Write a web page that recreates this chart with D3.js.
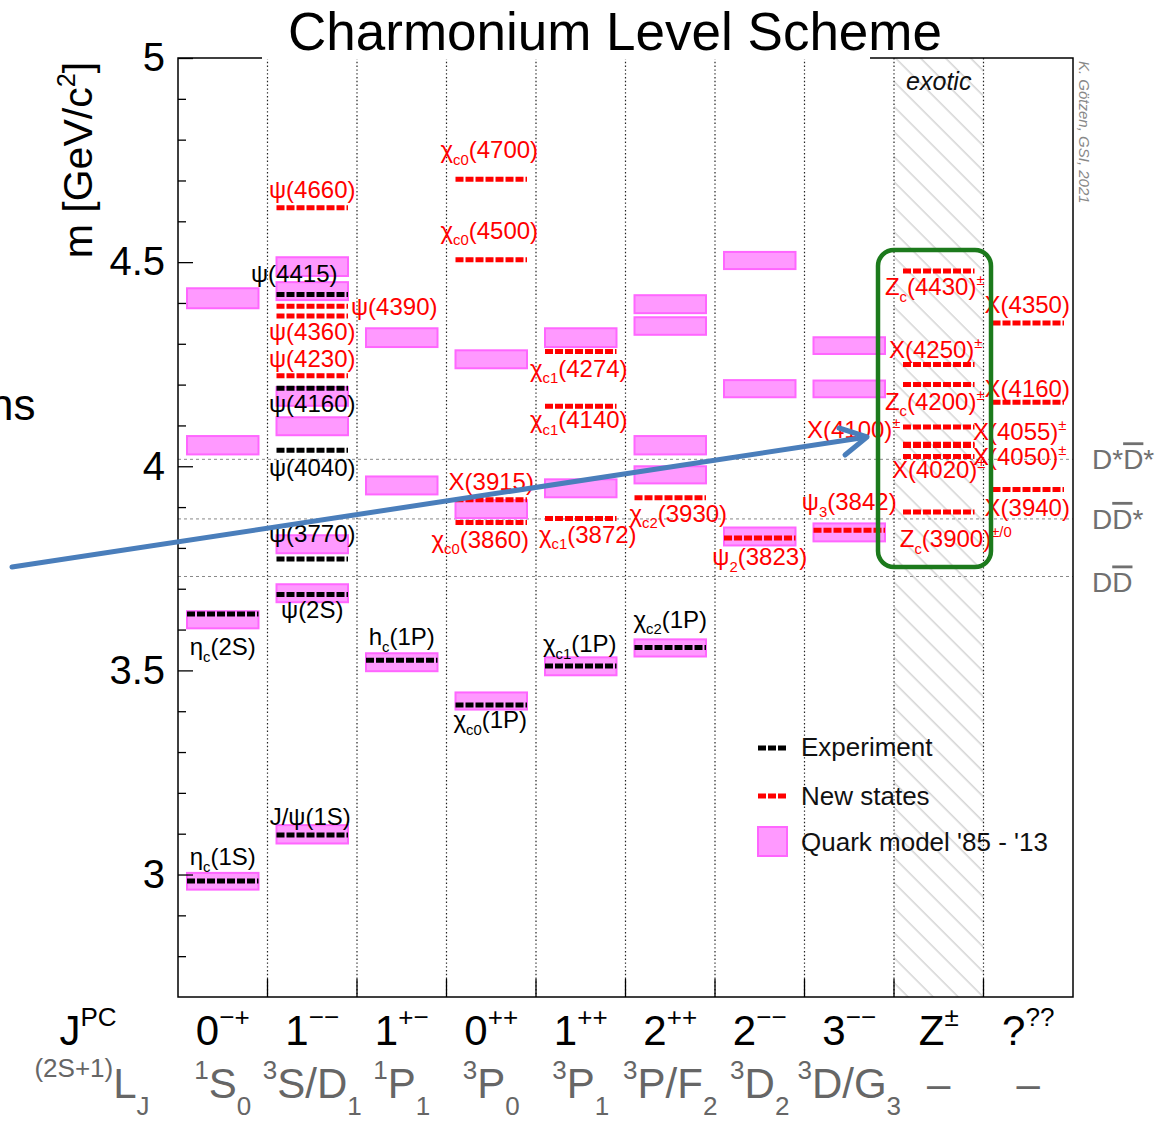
<!DOCTYPE html>
<html lang="en">
<head>
<meta charset="utf-8">
<title>Charmonium Level Scheme</title>
<script src="https://cdn.jsdelivr.net/npm/d3@7"></script>
<style>
  body { margin: 0; background: #fff; }
  svg { display: block; font-family: "Liberation Sans", Arial, Helvetica, sans-serif; }
</style>
</head>
<body>
<script>
// ---- data ----
var jpcLabels = ["0^{\u2212+}", "1^{\u2212\u2212}", "1^{+\u2212}", "0^{++}", "1^{++}", "2^{++}", "2^{\u2212\u2212}", "3^{\u2212\u2212}", "Z^{\u00b1}", "?^{??}"];
var lsjLabels = ["^{1}S_{0}", "^{3}S/D_{1}", "^{1}P_{1}", "^{3}P_{0}", "^{3}P_{1}", "^{3}P/F_{2}", "^{3}D_{2}", "^{3}D/G_{3}", "\u2013", "\u2013"];

// [column, mass GeV, name]
var expStates = [
  [0, 2.984, "\u03b7_{c}(1S)"],
  [0, 3.638, "\u03b7_{c}(2S)"],
  [1, 3.097, "J/\u03c8(1S)"],
  [1, 3.686, "\u03c8(2S)"],
  [1, 3.773, "\u03c8(3770)"],
  [1, 4.039, "\u03c8(4040)"],
  [1, 4.191, "\u03c8(4160)"],
  [1, 4.421, "\u03c8(4415)"],
  [2, 3.525, "h_{c}(1P)"],
  [3, 3.415, "\u03c7_{c0}(1P)"],
  [4, 3.511, "\u03c7_{c1}(1P)"],
  [5, 3.556, "\u03c7_{c2}(1P)"]
];

var newStates = [
  [1, 4.222, "\u03c8(4230)"],
  [1, 4.368, "\u03c8(4360)"],
  [1, 4.392, "\u03c8(4390)"],
  [1, 4.633, "\u03c8(4660)"],
  [3, 3.862, "\u03c7_{c0}(3860)"],
  [3, 3.918, "X(3915)"],
  [3, 4.506, "\u03c7_{c0}(4500)"],
  [3, 4.703, "\u03c7_{c0}(4700)"],
  [4, 3.872, "\u03c7_{c1}(3872)"],
  [4, 4.147, "\u03c7_{c1}(4140)"],
  [4, 4.281, "\u03c7_{c1}(4274)"],
  [5, 3.923, "\u03c7_{c2}(3930)"],
  [6, 3.824, "\u03c8_{2}(3823)"],
  [7, 3.843, "\u03c8_{3}(3842)"],
  [8, 3.888, "Z_{c}(3900)^{\u00b1/0}"],
  [8, 4.024, "X(4020)^{\u00b1}"],
  [8, 4.051, "X(4050)^{\u00b1}"],
  [8, 4.054, "X(4055)^{\u00b1}"],
  [8, 4.096, "X(4100)^{\u00b1}"],
  [8, 4.200, "Z_{c}(4200)^{\u00b1}"],
  [8, 4.249, "X(4250)^{\u00b1}"],
  [8, 4.478, "Z_{c}(4430)^{\u00b1}"],
  [9, 3.943, "X(3940)"],
  [9, 4.157, "X(4160)"],
  [9, 4.351, "X(4350)"]
];

// quark model predictions: [column, low, high]
var modelBoxes = [
  [0, 2.963, 3.004], [0, 3.603, 3.645], [0, 4.029, 4.074], [0, 4.387, 4.436],
  [1, 3.076, 3.121], [1, 3.667, 3.711], [1, 3.787, 3.831], [1, 4.076, 4.120],
  [1, 4.148, 4.194], [1, 4.407, 4.451], [1, 4.466, 4.512],
  [2, 3.498, 3.542], [2, 3.931, 3.975], [2, 4.292, 4.338],
  [3, 3.404, 3.446], [3, 3.873, 3.917], [3, 4.240, 4.284],
  [4, 3.488, 3.532], [4, 3.924, 3.968], [4, 4.292, 4.338],
  [5, 3.534, 3.576], [5, 3.958, 4.000], [5, 4.029, 4.074], [5, 4.322, 4.365], [5, 4.375, 4.419],
  [6, 3.806, 3.850], [6, 4.169, 4.211], [6, 4.483, 4.525],
  [7, 3.816, 3.860], [7, 4.169, 4.210], [7, 4.275, 4.316]
];

var thresholds = [
  [3.730, "D#{D}"],
  [3.871, "D#{D}*"],
  [4.017, "D*#{D}*"]
];

var majorTicks = [3, 3.5, 4, 4.5, 5];
var minorTicks = [2.8, 2.9, 3.1, 3.2, 3.3, 3.4, 3.6, 3.7, 3.8, 3.9, 4.1, 4.2, 4.3, 4.4, 4.6, 4.7, 4.8, 4.9];
var legendLabels = ["Experiment", "New states", "Quark model '85 - '13"];

// label placement: name -> [dx from column centre, dy from level]
var labelPlace = {
  "\u03b7_{c}(1S)": [0, -16], "\u03b7_{c}(2S)": [0, 41],
  "J/\u03c8(1S)": [-2, -10], "\u03c8(2S)": [0, 24], "\u03c8(3770)": [0, -17],
  "\u03c8(4040)": [0, 26], "\u03c8(4160)": [0, 24], "\u03c8(4415)": [-18, -12],
  "h_{c}(1P)": [0, -15], "\u03c7_{c0}(1P)": [-1, 23], "\u03c7_{c1}(1P)": [-1, -14], "\u03c7_{c2}(1P)": [0, -20],
  "\u03c8(4230)": [0, -9], "\u03c8(4360)": [0, 24], "\u03c8(4390)": [82, 9], "\u03c8(4660)": [0, -10],
  "\u03c7_{c0}(3860)": [-11, 25], "X(3915)": [0, -10], "\u03c7_{c0}(4500)": [-2, -21], "\u03c7_{c0}(4700)": [-2, -21],
  "\u03c7_{c1}(3872)": [7, 24], "\u03c7_{c1}(4140)": [-2, 22], "\u03c7_{c1}(4274)": [-2, 25],
  "\u03c7_{c2}(3930)": [8, 24], "\u03c8_{2}(3823)": [0, 27], "\u03c8_{3}(3842)": [0, -20],
  "Z_{c}(3900)^{\u00b1/0}": [17, 35], "X(4020)^{\u00b1}": [0, 22], "X(4050)^{\u00b1}": [81, 20],
  "X(4055)^{\u00b1}": [81, -4], "X(4100)^{\u00b1}": [-85, 11], "Z_{c}(4200)^{\u00b1}": [-4, 25],
  "X(4250)^{\u00b1}": [-3, -7], "Z_{c}(4430)^{\u00b1}": [-4, 24],
  "X(3940)": [-1, 26], "X(4160)": [-1, -5], "X(4350)": [-1, -10]
};

// ---- setup ----
var W = 1165, H = 1122;
var plotL = 178, plotR = 1073, plotT = 58, plotB = 997;
var inset = 9;
var pink = "#ff99ff", pinkEdge = "#ff66ff", red = "#ff0000";

var svg = d3.select("body").append("svg").attr("width", W).attr("height", H);

var x = d3.scaleBand().domain(d3.range(10)).range([plotL, plotR]);
var y = d3.scaleLinear().domain([2.7, 5.0]).range([plotB, plotT]);

// write a string with _{sub}, ^{sup} and #{overline} pieces into a text element
function rich(sel, str, size, sub, sup) {
  sub = sub || 0.28; sup = sup || 0.42;
  var re = /([_^])\{([^}]*)\}|#\{([^}]*)\}|([^_^#]+)/g, m, shift = 0;
  while ((m = re.exec(str)) !== null) {
    var fs = size, target = 0, txt, over = false;
    if (m[1]) { txt = m[2]; fs = size * 0.62; target = m[1] === "_" ? size * sub : -size * sup; }
    else if (m[3] !== undefined) { txt = m[3]; over = true; }
    else { txt = m[4]; }
    var t = sel.append("tspan").attr("font-size", fs).attr("dy", target - shift).text(txt);
    if (over) t.style("text-decoration", "overline");
    shift = target;
  }
}

var defs = svg.append("defs");
defs.append("pattern")
    .attr("id", "hatch")
    .attr("patternUnits", "userSpaceOnUse")
    .attr("width", 17.7).attr("height", 17.7)
    .attr("patternTransform", "rotate(-45)")
  .append("line")
    .attr("x1", 8).attr("y1", 0).attr("x2", 8).attr("y2", 17.7)
    .attr("stroke", "#c4c4c4").attr("stroke-width", 1.1);

// exotic column hatch
svg.append("rect")
    .attr("x", x(8)).attr("y", plotT)
    .attr("width", x.bandwidth()).attr("height", plotB - plotT)
    .attr("fill", "url(#hatch)");

// thresholds
svg.selectAll(".thr")
    .data(thresholds)
  .enter().append("line")
    .attr("class", "thr")
    .attr("x1", plotL).attr("x2", plotR)
    .attr("y1", function(d) { return y(d[0]); })
    .attr("y2", function(d) { return y(d[0]); })
    .attr("stroke", "#888").attr("stroke-width", 1)
    .attr("stroke-dasharray", "3,3");

var thrDy = [16, 10, 10];
svg.selectAll(".thrlab")
    .data(thresholds)
  .enter().append("text")
    .attr("class", "thrlab")
    .attr("x", 1092)
    .attr("y", function(d, i) { return y(d[0]) + thrDy[i]; })
    .attr("fill", "#707070")
    .each(function(d) { rich(d3.select(this), d[1], 28); });

// column separators (dotted)
svg.selectAll(".sep")
    .data(d3.range(1, 10))
  .enter().append("line")
    .attr("class", "sep")
    .attr("x1", function(d) { return x(d); })
    .attr("x2", function(d) { return x(d); })
    .attr("y1", plotT).attr("y2", plotB)
    .attr("stroke", "#222").attr("stroke-width", 1.2)
    .attr("stroke-dasharray", "1.4,2.4");

// quark model boxes
svg.selectAll(".box")
    .data(modelBoxes)
  .enter().append("rect")
    .attr("class", "box")
    .attr("x", function(d) { return x(d[0]) + inset; })
    .attr("width", x.bandwidth() - 2 * inset)
    .attr("y", function(d) { return y(d[2]); })
    .attr("height", function(d) { return y(d[1]) - y(d[2]); })
    .attr("fill", pink).attr("stroke", pinkEdge).attr("stroke-width", 2);

// levels
function drawLevels(data, color, cls) {
  svg.selectAll("." + cls)
      .data(data)
    .enter().append("line")
      .attr("class", cls)
      .attr("x1", function(d) { return x(d[0]) + inset; })
      .attr("x2", function(d) { return x(d[0]) + x.bandwidth() - inset; })
      .attr("y1", function(d) { return y(d[1]); })
      .attr("y2", function(d) { return y(d[1]); })
      .attr("stroke", color).attr("stroke-width", 5)
      .attr("stroke-dasharray", "8,2");

  svg.selectAll("." + cls + "lab")
      .data(data)
    .enter().append("text")
      .attr("class", cls + "lab")
      .attr("text-anchor", "middle")
      .attr("fill", color)
      .attr("x", function(d) { return x(d[0]) + x.bandwidth() / 2 + (labelPlace[d[2]] || [0, 0])[0]; })
      .attr("y", function(d) { return y(d[1]) + (labelPlace[d[2]] || [0, -10])[1]; })
      .each(function(d) { rich(d3.select(this), d[2], 24); });
}
drawLevels(expStates, "#000", "exp");
drawLevels(newStates, red, "new");

// frame
svg.append("rect")
    .attr("x", plotL).attr("y", plotT)
    .attr("width", plotR - plotL).attr("height", plotB - plotT)
    .attr("fill", "none").attr("stroke", "#000").attr("stroke-width", 1.5);

// y axis (ticks inside)
var minorAxis = d3.axisLeft(y).tickValues(minorTicks).tickSize(-8).tickFormat("");
var majorAxis = d3.axisLeft(y).tickValues(majorTicks).tickSize(-15).tickPadding(13)
    .tickFormat(function(d) { return String(d); });

var gMinor = svg.append("g").attr("transform", "translate(" + plotL + ",0)").call(minorAxis);
var gMajor = svg.append("g").attr("transform", "translate(" + plotL + ",0)").call(majorAxis);
gMinor.select(".domain").remove();
gMajor.select(".domain").remove();
svg.selectAll(".tick line").attr("stroke", "#000").attr("stroke-width", 1.3);
gMajor.selectAll("text")
    .attr("font-size", 40)
    .attr("font-family", "'Liberation Sans', Arial, sans-serif")
    .attr("fill", "#000");

// x ticks at column boundaries
svg.selectAll(".xtick")
    .data(d3.range(1, 10))
  .enter().append("line")
    .attr("class", "xtick")
    .attr("x1", function(d) { return x(d); })
    .attr("x2", function(d) { return x(d); })
    .attr("y1", plotB).attr("y2", plotB - 18)
    .attr("stroke", "#000").attr("stroke-width", 1.3);

// column labels
svg.selectAll(".jpc")
    .data(jpcLabels)
  .enter().append("text")
    .attr("class", "jpc")
    .attr("text-anchor", "middle")
    .attr("x", function(d, i) { return x(i) + x.bandwidth() / 2; })
    .attr("y", 1045)
    .attr("fill", "#000")
    .each(function(d) { rich(d3.select(this), d, 42, 0.3, 0.45); });

svg.selectAll(".lsj")
    .data(lsjLabels)
  .enter().append("text")
    .attr("class", "lsj")
    .attr("text-anchor", "middle")
    .attr("x", function(d, i) { return x(i) + x.bandwidth() / 2; })
    .attr("y", 1098)
    .attr("fill", "#666")
    .each(function(d) { rich(d3.select(this), d, 42, 0.4, 0.45); });

svg.append("text")
    .attr("x", 88).attr("y", 1045)
    .attr("text-anchor", "middle").attr("fill", "#000")
    .each(function() { rich(d3.select(this), "J^{PC}", 42, 0.3, 0.45); });

svg.append("text")
    .attr("x", 92).attr("y", 1098)
    .attr("text-anchor", "middle").attr("fill", "#666")
    .each(function() { rich(d3.select(this), "^{(2S+1)}L_{J}", 42, 0.4, 0.5); });

// legend
var legY = [748, 796];
svg.selectAll(".legline")
    .data([0, 1])
  .enter().append("line")
    .attr("class", "legline")
    .attr("x1", 758).attr("x2", 787)
    .attr("y1", function(d) { return legY[d]; })
    .attr("y2", function(d) { return legY[d]; })
    .attr("stroke", function(d) { return d === 0 ? "#000" : red; })
    .attr("stroke-width", 5)
    .attr("stroke-dasharray", "8,2");

svg.append("rect")
    .attr("x", 758).attr("y", 827).attr("width", 29).attr("height", 29)
    .attr("fill", pink).attr("stroke", pinkEdge).attr("stroke-width", 2);

svg.selectAll(".legtext")
    .data(legendLabels)
  .enter().append("text")
    .attr("class", "legtext")
    .attr("x", 801)
    .attr("y", function(d, i) { return [756, 805, 851][i]; })
    .attr("font-size", 26)
    .attr("fill", "#111")
    .text(function(d) { return d; });

// exotic label
svg.append("text")
    .attr("x", x(8) + x.bandwidth() / 2).attr("y", 90)
    .attr("text-anchor", "middle")
    .attr("font-size", 25).attr("font-style", "italic")
    .attr("fill", "#111")
    .text("exotic");

// credit
svg.append("text")
    .attr("transform", "translate(1079,61) rotate(90)")
    .attr("font-size", 15).attr("font-style", "italic")
    .attr("fill", "#888")
    .text("K. G\u00f6tzen, GSI, 2021");

// y-axis title
svg.append("text")
    .attr("transform", "translate(92,160) rotate(-90)")
    .attr("text-anchor", "middle")
    .attr("fill", "#000")
    .each(function() { rich(d3.select(this), "m [GeV/c^{2}]", 41, 0.3, 0.42); });

// title
svg.append("rect")
    .attr("x", 262).attr("y", 0).attr("width", 608).attr("height", 59.5)
    .attr("fill", "#fff");
svg.append("text")
    .attr("x", 615).attr("y", 50)
    .attr("text-anchor", "middle")
    .attr("font-size", 53)
    .attr("fill", "#000")
    .text("Charmonium Level Scheme");

// green box around the Z states
svg.append("rect")
    .attr("x", 878).attr("y", 250)
    .attr("width", 113).attr("height", 317)
    .attr("rx", 16).attr("ry", 16)
    .attr("fill", "none")
    .attr("stroke", "#1c7a1c").attr("stroke-width", 4.5);

// cut-off slide text on the left
svg.append("text")
    .attr("x", -11).attr("y", 420)
    .attr("font-size", 44)
    .attr("fill", "#000")
    .text("ns");

// blue arrow
svg.append("line")
    .attr("x1", 12).attr("y1", 567)
    .attr("x2", 864).attr("y2", 437.5)
    .attr("stroke", "#4a7ebb").attr("stroke-width", 5)
    .attr("stroke-linecap", "round");
svg.append("path")
    .attr("d", "M839,428 L867,437 L845,455")
    .attr("fill", "none")
    .attr("stroke", "#4a7ebb").attr("stroke-width", 5)
    .attr("stroke-linejoin", "round").attr("stroke-linecap", "round");
</script>
</body>
</html>
